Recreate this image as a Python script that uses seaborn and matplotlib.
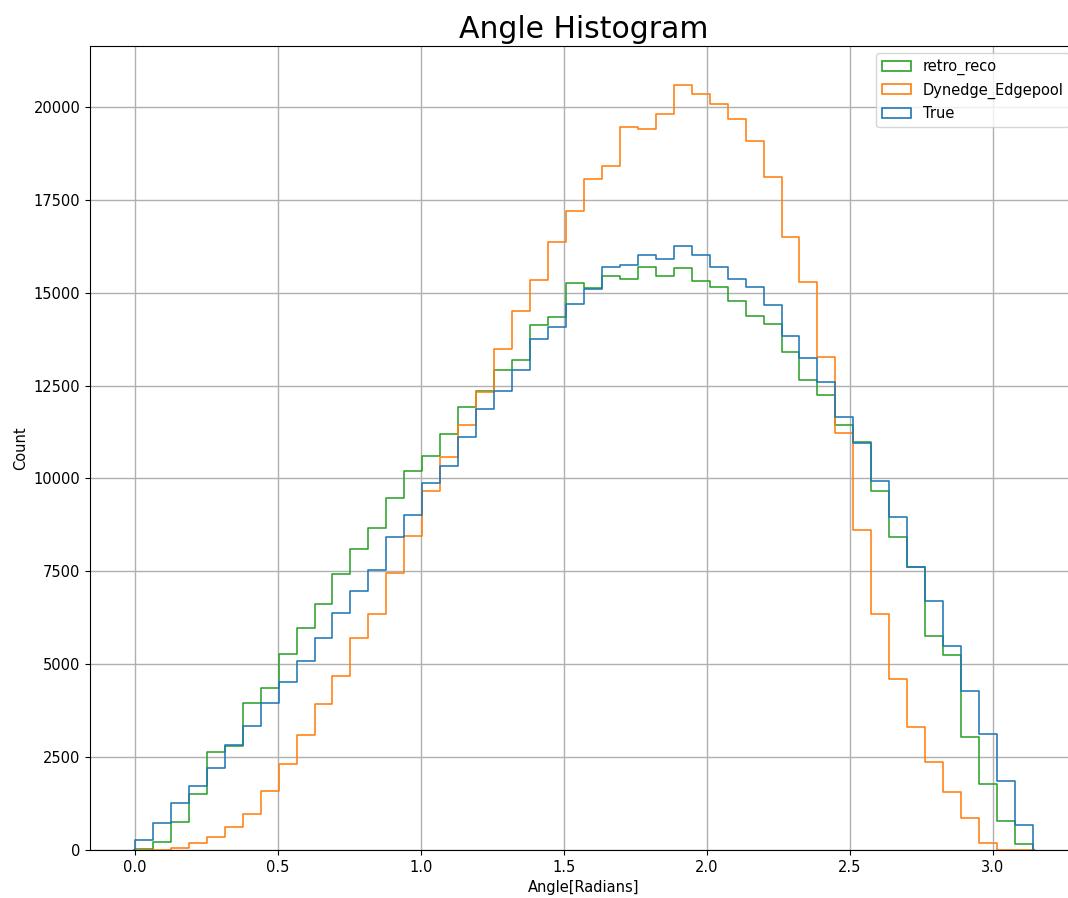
import numpy as np
import pandas as pd
import seaborn as sns
import matplotlib
matplotlib.use("Agg")
import matplotlib.pyplot as plt
from matplotlib.patches import Patch, Rectangle

n_bins = 50
true_counts = [270, 735, 1256, 1731, 2216, 2818, 3329, 3957, 4513, 5087,
               5707, 6385, 6980, 7544, 8418, 9020, 9888, 10328, 11126, 11879,
               12355, 12921, 13747, 14070, 14705, 15101, 15705, 15740, 16020, 15905,
               16258, 16025, 15702, 15379, 15140, 14665, 13825, 13240, 12588, 11646,
               10947, 9933, 8972, 7627, 6703, 5500, 4280, 3132, 1848, 664]
retro_counts = [40, 224, 745, 1498, 2647, 2810, 3948, 4361, 5276, 5985,
                6625, 7420, 8102, 8659, 9462, 10211, 10606, 11207, 11925, 12364,
                12921, 13190, 14140, 14343, 15262, 15137, 15455, 15380, 15702, 15460,
                15658, 15307, 15146, 14778, 14383, 14155, 13400, 12642, 12238, 11450,
                10992, 9673, 8435, 7620, 5751, 5240, 3041, 1776, 780, 153]
dynedge_counts = [0, 0, 45, 180, 341, 619, 978, 1579, 2306, 3087,
                  3921, 4675, 5707, 6357, 7465, 8461, 9659, 10571, 11450, 12337,
                  13478, 14509, 15343, 16375, 17209, 18052, 18402, 19470, 19399, 19812,
                  20592, 20350, 20081, 19677, 19085, 18124, 16509, 15276, 13279, 11213,
                  8623, 6344, 4594, 3320, 2378, 1570, 871, 197, 0, 0]
series_names = ["retro_reco", "Dynedge_Edgepool", "True"]
series_colors = ["#2ca02c", "#ff7f0e", "#1f77b4"]

width = np.pi / n_bins
centers = (np.arange(n_bins) + 0.5) * width

fig = plt.figure(figsize=(10.68, 8.98), dpi=100)
# axes extends slightly past the right edge of the image, as in the reference
ax = fig.add_axes([90 / 1068, 48 / 898, 988 / 1068, 804 / 898])

for name, counts, color in zip(series_names,
                               [retro_counts, dynedge_counts, true_counts],
                               series_colors):
    df = pd.DataFrame({"angle": centers, "count": counts})
    # one empty bin on each side so the outline drops to the baseline at both ends
    sns.histplot(data=df, x="angle", weights="count",
                 binwidth=width, binrange=(-width, np.pi + width),
                 element="step", fill=False, color=color, linewidth=1.15, ax=ax)

clip = Rectangle((-0.006, -1000), np.pi + 0.012, 40000, transform=ax.transData)
for line in ax.lines:
    line.set_clip_path(clip)

ax.set_xlim(-0.157, 3.299)
ax.set_ylim(0, 21640)
ax.grid(True, color="#b0b0b0", linewidth=1.0)
ax.set_axisbelow(True)
ax.set_title("Angle Histogram", fontsize=21.5)
ax.set_xlabel("Angle[Radians]", fontsize=10.5)
ax.set_ylabel("Count", fontsize=10.5)
ax.tick_params(labelsize=10.5)

handles = [Patch(facecolor="none", edgecolor=c, linewidth=1.2) for c in series_colors]
ax.legend(handles, series_names, loc="upper left", fontsize=10.5,
          bbox_to_anchor=((876 - 90) / 988, (850 - 53) / 804),
          borderaxespad=0, labelspacing=0.5)

fig.savefig("out.png", dpi=100)
